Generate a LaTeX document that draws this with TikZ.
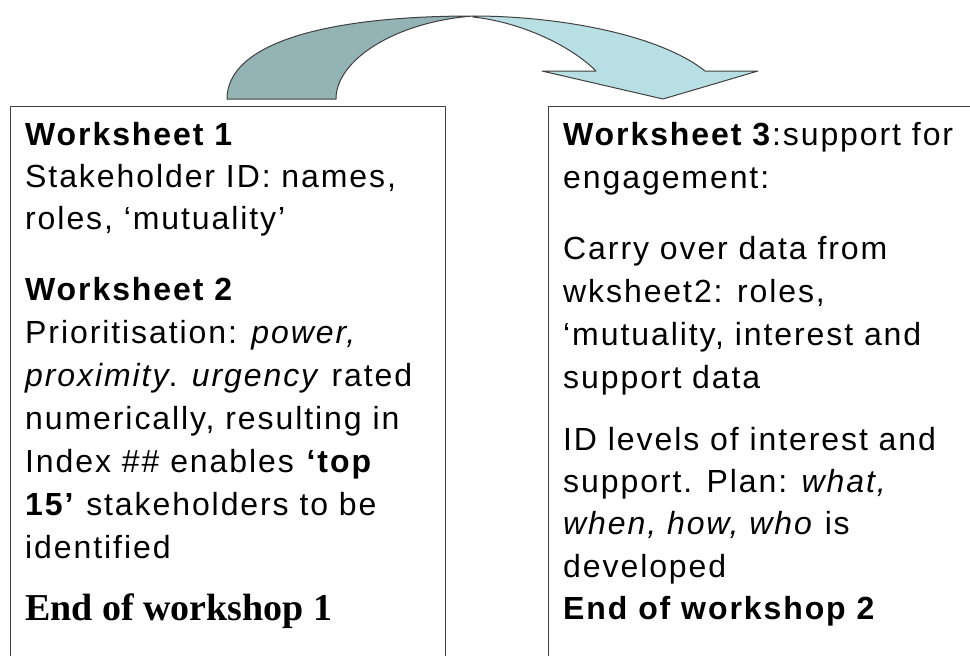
\documentclass[tikz,border=0pt]{standalone}
\usepackage{fontspec}
\setmainfont{Liberation Sans}
\newfontfamily\wsfont[LetterSpace=6]{Liberation Sans}
\newfontfamily\endfont{Liberation Serif}
\usepackage{tikz}
\usetikzlibrary{positioning, calc}
\definecolor{arrowback}{RGB}{147,179,181}
\definecolor{arrowfront}{RGB}{184,224,228}
\definecolor{edgegray}{RGB}{64,64,64}

\tikzset{
  wsbox/.style={draw=edgegray, line width=1.3pt, inner sep=0pt},
  wstext/.style={anchor=base west, inner sep=0pt, font=\wsfont\fontsize{32}{38}\selectfont},
  endtext/.style={anchor=base west, inner sep=0pt, font=\endfont\bfseries\fontsize{38}{44}\selectfont},
  arrowline/.style={draw=edgegray, line width=1pt, line join=round}
}

\begin{document}
\begin{tikzpicture}[x=1pt, y=-1pt]
    \useasboundingbox (0,0) rectangle (970,656);

    %% Worksheet boxes (run off the page at the bottom and right)
    \node[wsbox, anchor=north west, minimum width=435pt, minimum height=600pt] (leftbox) at (10,106) {};
    \node[wsbox, anchor=north west, minimum width=460pt, minimum height=600pt] (rightbox) at (548,106) {};

    %% Curved arrow: back part
    \fill[arrowback] (227,99) .. controls (227,45) and (320,16) .. (473,16)
      .. controls (395,22) and (336,60) .. (336,99) -- cycle;
    \draw[arrowline] (227,99) .. controls (227,45) and (320,16) .. (473,16)
      .. controls (395,22) and (336,60) .. (336,99) -- cycle;

    %% Curved arrow: front part with head
    \fill[arrowfront] (473,16) .. controls (560,16) and (660,35) .. (705,71)
      -- (758,71) -- (663,99) -- (542,71) -- (596,71)
      .. controls (570,45) and (520,22) .. (473,17) -- cycle;
    \draw[arrowline] (473,16) .. controls (560,16) and (660,35) .. (705,71)
      -- (758,71) -- (663,99) -- (542,71) -- (596,71)
      .. controls (570,45) and (520,22) .. (473,17) -- cycle;

    %% Left box text
    \node[wstext] (l1) at (25,145) {\textbf{Worksheet 1}};
    \node[wstext] (l2) at (25,187) {Stakeholder ID: names,};
    \node[wstext] (l3) at (25,229) {roles, ‘mutuality’};
    \node[wstext] (l4) at (25,300) {\textbf{Worksheet 2}};
    \node[wstext] (l5) at (25,343) {Prioritisation: \textit{power,}};
    \node[wstext] (l6) at (25,386) {\textit{proximity}. \textit{urgency} rated};
    \node[wstext] (l7) at (25,429) {numerically, resulting in};
    \node[wstext] (l8) at (25,472) {Index \#\# enables \textbf{‘top}};
    \node[wstext] (l9) at (25,515) {\textbf{15’} stakeholders to be};
    \node[wstext] (l10) at (25,558) {identified};
    \node[endtext] (l11) at (25,620) {End of workshop 1};

    %% Right box text
    \node[wstext] (r1) at (563,145) {\textbf{Worksheet 3}:support for};
    \node[wstext] (r2) at (563,188) {engagement:};
    \node[wstext] (r3) at (563,259) {Carry over data from};
    \node[wstext] (r4) at (563,302) {wksheet2: roles,};
    \node[wstext] (r5) at (563,345) {‘mutuality, interest and};
    \node[wstext] (r6) at (563,388) {support data};
    \node[wstext] (r7) at (563,450) {ID levels of interest and};
    \node[wstext] (r8) at (563,492) {support. Plan: \textit{what,}};
    \node[wstext] (r9) at (563,534) {\textit{when, how, who} is};
    \node[wstext] (r10) at (563,577) {developed};
    \node[wstext] (r11) at (563,619) {\textbf{End of workshop 2}};
\end{tikzpicture}
\end{document}
